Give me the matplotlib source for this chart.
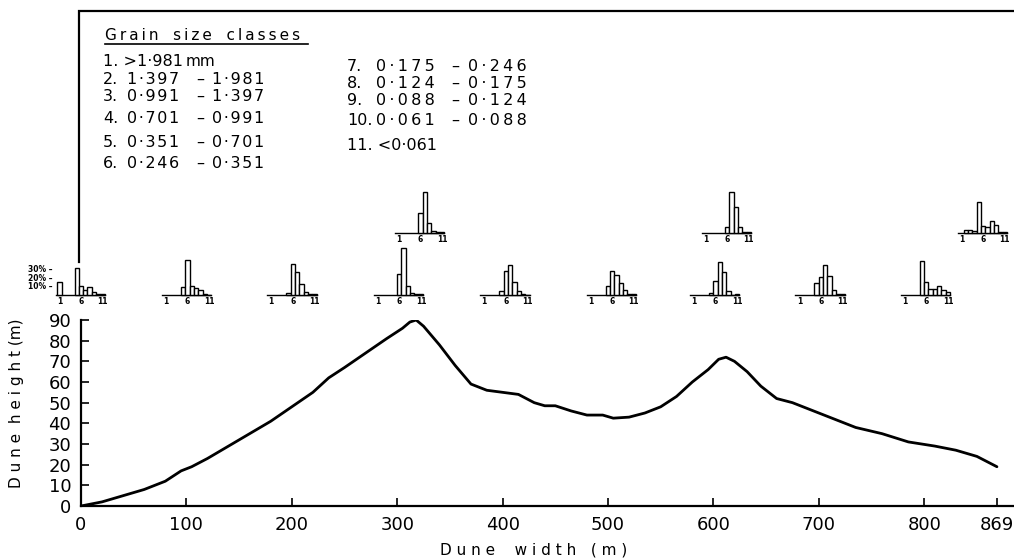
import matplotlib
matplotlib.use('Agg')
import matplotlib.pyplot as plt

W, H = 1014, 558

# dune profile (m)
dist = [0, 10, 20, 40, 60, 80, 95, 105, 120, 140, 160, 180, 200, 220, 235, 250,
        270, 290, 305, 312, 318, 325, 340, 355, 370, 385, 400, 415, 430, 440, 450,
        465, 480, 495, 505, 520, 535, 550, 565, 580, 595, 605, 612, 620, 632, 645,
        660, 675, 690, 710, 735, 760, 785, 810, 830, 850, 869]
height = [0, 1, 2, 5, 8, 12, 17, 19, 23, 29, 35, 41, 48, 55, 62, 67,
          74, 81, 86, 89, 90, 87, 78, 68, 59, 56, 55, 54, 50, 48.5, 48.5,
          46, 44, 44, 42.5, 43, 45, 48, 53, 60, 66, 71, 72, 70, 65, 58,
          52, 50, 47, 43, 38, 35, 31, 29, 27, 24, 19]

xticks = [0, 100, 200, 300, 400, 500, 600, 700, 800, 869]
yticks = [0, 10, 20, 30, 40, 50, 60, 70, 80, 90]

# grain size histograms: position along dune (m), row (0 = low, 1 = high), % per class 1-11
hist_x = [0, 101, 201, 302, 403, 504, 602, 702, 802, 322, 613, 856]
hist_row = [0, 0, 0, 0, 0, 0, 0, 0, 0, 1, 1, 1]
hist_pct = [
    [15, 0, 0, 0, 32, 11, 6, 10, 4, 1, 1],
    [0, 0, 0, 0, 10, 42, 10.5, 8, 6, 1, 0.5],
    [0, 0, 0, 0, 3, 37, 27, 13, 4, 1, 1],
    [0, 0, 0, 0, 0, 25, 55, 11, 3, 1, 1],
    [0, 0, 0, 0, 5.5, 28, 36, 16, 5, 1.5, 0.5],
    [0, 0, 0, 0, 11, 28, 24, 14, 6, 1.5, 1],
    [0, 0, 0, 0, 3, 17, 39, 27, 5.5, 0.5, 1.5],
    [0, 0, 0, 0, 14.5, 22, 36, 23, 6.5, 1, 1.5],
    [0, 0, 0, 0, 40, 16, 7.5, 7.5, 10.5, 6.5, 4],
    [0, 0, 0, 0, 0, 24, 48, 12, 3, 1, 1],
    [0, 0, 0, 0, 0, 7, 49, 31, 7, 1, 1],
    [0, 4, 4, 3, 37, 9, 7, 14, 10, 1, 1],
]
scale_pct = [10, 20, 30]

# grain size key
class_num = ['1.', '2.', '3.', '4.', '5.', '6.', '7.', '8.', '9.', '10.', '11.']
class_lo = ['>1·981', '1·397', '0·991', '0·701', '0·351', '0·246',
            '0·175', '0·124', '0·088', '0·061', '<0·061']
class_hi = ['mm', '1·981', '1·397', '0·991', '0·701', '0·351',
            '0·246', '0·175', '0·124', '0·088', '']


def spaced(s, sep='\u2009'):
    return sep.join(s)


fig = plt.figure(figsize=(W / 100, H / 100), dpi=100)
ax = fig.add_axes([81 / W, 52 / H, (W - 81) / W, 186 / H])
ax.plot(dist, height, color='black', lw=2.0, solid_capstyle='round')
ax.set_xlim(0, (W - 81) / 1.054)
ax.set_ylim(0, 90)
for s in ['top', 'right']:
    ax.spines[s].set_visible(False)
for s in ['left', 'bottom']:
    ax.spines[s].set_linewidth(1.6)
ax.set_xticks(xticks)
ax.set_yticks(yticks)
ax.tick_params(direction='in', length=6, width=1.2, labelsize=13, pad=7)
ax.patch.set_alpha(0)

# histograms in data units of the main axes
cw = 4.1          # m per grain class
hs = 0.411        # m of height per percent
bases = [102, 132]
for x6, row, pct in zip(hist_x, hist_row, hist_pct):
    b = bases[row]
    xs = [x6 + (k - 6) * cw for k in range(1, 12)]
    ax.plot([xs[0] - 0.9 * cw, xs[-1] + 0.5 * cw], [b, b], color='black', lw=1.0, clip_on=False)
    for xc, p in zip(xs, pct):
        if p > 0:
            ax.bar(xc, p * hs, width=cw, bottom=b, facecolor='white', edgecolor='black',
                   lw=1.0, clip_on=False, zorder=3)
    for k in (1, 6, 11):
        ax.text(xs[k - 1], b - 3.2, str(k), fontsize=5.5, fontweight='bold',
                ha='center', va='center')
for p in scale_pct:
    ax.text(-27, bases[0] + p * hs, f'{p}% –', fontsize=5.5, fontweight='bold',
            ha='right', va='center')

# overlay in pixel units for the key and axis titles
ov = fig.add_axes([0, 0, 1, 1])
ov.set_xlim(0, W)
ov.set_ylim(H, 0)
ov.axis('off')
ov.patch.set_alpha(0)
ov.plot([79, 79, W], [262, 10.5, 10.5], color='black', lw=1.6, solid_joinstyle='miter')

ov.text(105, 40, spaced('Grain') + '   ' + spaced('size') + '   ' + spaced('classes'),
        fontsize=11, ha='left', va='baseline')
ov.plot([105, 308], [43.5, 43.5], color='black', lw=1.2)

fs = 11.5
row_base = [66, 84, 101, 123, 147, 168, 71, 88, 105, 125, 150]
for i in range(11):
    yb = row_base[i]
    if i == 0:
        ov.text(103, yb, class_num[i] + ' ' + class_lo[i], fontsize=fs, ha='left', va='baseline')
        ov.text(186, yb, class_hi[i], fontsize=fs - 0.5, ha='left', va='baseline')
        continue
    if i == 10:
        ov.text(347, yb, class_num[i] + ' ' + class_lo[i], fontsize=fs, ha='left', va='baseline')
        continue
    if i < 6:
        xn, xlo, xd, xhi, sep = 103, 127, 200, 212, '\u200a'
    else:
        xn, xlo, xd, xhi, sep = 347, 376, 455, 468, '\u2009'
    ov.text(xn, yb, class_num[i], fontsize=fs, ha='left', va='baseline')
    ov.text(xlo, yb, spaced(class_lo[i], sep), fontsize=fs, ha='left', va='baseline')
    ov.text(xd, yb, '–', fontsize=fs, ha='center', va='baseline')
    ov.text(xhi, yb, spaced(class_hi[i], sep), fontsize=fs, ha='left', va='baseline')

ov.text(534, 550, 'D u n e    w i d t h   ( m )', fontsize=11, ha='center', va='center')
ov.text(17, 403, 'D u n e  h e i g h t (m)', fontsize=11, ha='center', va='center',
        rotation=90)

fig.savefig('out.png', dpi=100)
